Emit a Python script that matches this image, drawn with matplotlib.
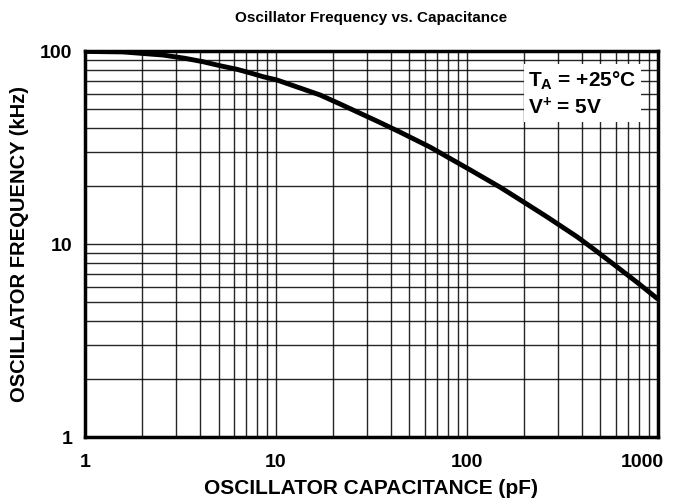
import matplotlib.pyplot as plt
import numpy as np
from matplotlib.ticker import FixedLocator, NullFormatter
from matplotlib.transforms import ScaledTranslation

plt.rcParams['font.family'] = ['Liberation Sans', 'DejaVu Sans']
plt.rcParams['mathtext.fontset'] = 'custom'
plt.rcParams['mathtext.bf'] = 'Liberation Sans:bold'
plt.rcParams['mathtext.rm'] = 'Liberation Sans:bold'
plt.rcParams['mathtext.default'] = 'bf'

# values
cap_pf = [1, 1.58, 2.56, 3.33, 4.15, 5.09, 6.24, 7.47, 8.55, 10.1, 17.0, 21.6,
          34.2, 44.6, 64, 104, 149, 208, 266, 377, 468, 581, 777, 1000]
freq_khz = [99.5, 98.9, 95.3, 91.7, 88.0, 83.9, 80.4, 76.6, 73.6, 70.8, 59.2, 53.2,
            43.1, 38.0, 31.8, 24.2, 19.7, 16.0, 13.7, 10.9, 9.3, 7.9, 6.33, 5.18]

x_ticks = [1, 10, 100, 1000]
x_ticklabels = ['1', '10', '100', '1000']
y_ticks = [1, 10, 100]
y_ticklabels = ['1', '10', '100']

fig = plt.figure(figsize=(6.73, 5.04), dpi=100)
ax = fig.add_axes([0.1263, 0.1329, 0.8514, 0.7659])

ax.set_xscale('log')
ax.set_yscale('log')
ax.set_xlim(1, 1000)
ax.set_ylim(1, 100)

ax.xaxis.set_major_locator(FixedLocator(x_ticks))
ax.yaxis.set_major_locator(FixedLocator(y_ticks))
ax.set_xticklabels(x_ticklabels)
ax.set_yticklabels(y_ticklabels)
minors = [m * 10 ** d for d in range(3) for m in range(2, 10)]
ax.xaxis.set_minor_locator(FixedLocator(minors))
ax.yaxis.set_minor_locator(FixedLocator([m for m in minors if m < 100]))
ax.xaxis.set_minor_formatter(NullFormatter())
ax.yaxis.set_minor_formatter(NullFormatter())

ax.grid(True, which='both', color='black', lw=1.0, alpha=0.85)
ax.tick_params(which='both', length=0, labelsize=14)
ax.tick_params(axis='x', pad=12)
ax.tick_params(axis='y', pad=9)
for lab in ax.get_xticklabels() + ax.get_yticklabels():
    lab.set_fontweight('bold')
last = ax.get_xticklabels()[-1]
last.set_horizontalalignment('right')
last.set_transform(last.get_transform() + ScaledTranslation(6 / 100, 0, fig.dpi_scale_trans))

for sp in ax.spines.values():
    sp.set_linewidth(2.5)

ax.plot(cap_pf, freq_khz, color='black', lw=3.5, solid_capstyle='butt', zorder=3)

ax.text(0.774, 0.889, '$T_A$ = +25°C\n$V^{+}$ = 5V', transform=ax.transAxes,
        ha='left', va='center', fontsize=15, fontweight='bold', linespacing=1.3,
        bbox=dict(facecolor='white', edgecolor='none', pad=3), zorder=4)

ax.set_title('Oscillator Frequency vs. Capacitance', fontsize=11,
             fontweight='bold', pad=21)
ax.set_xlabel('OSCILLATOR CAPACITANCE (pF)', fontsize=15, fontweight='bold', labelpad=6)
ax.set_ylabel('OSCILLATOR FREQUENCY (kHz)', fontsize=14.5, fontweight='bold', labelpad=8)

fig.savefig('out.png', dpi=100)
